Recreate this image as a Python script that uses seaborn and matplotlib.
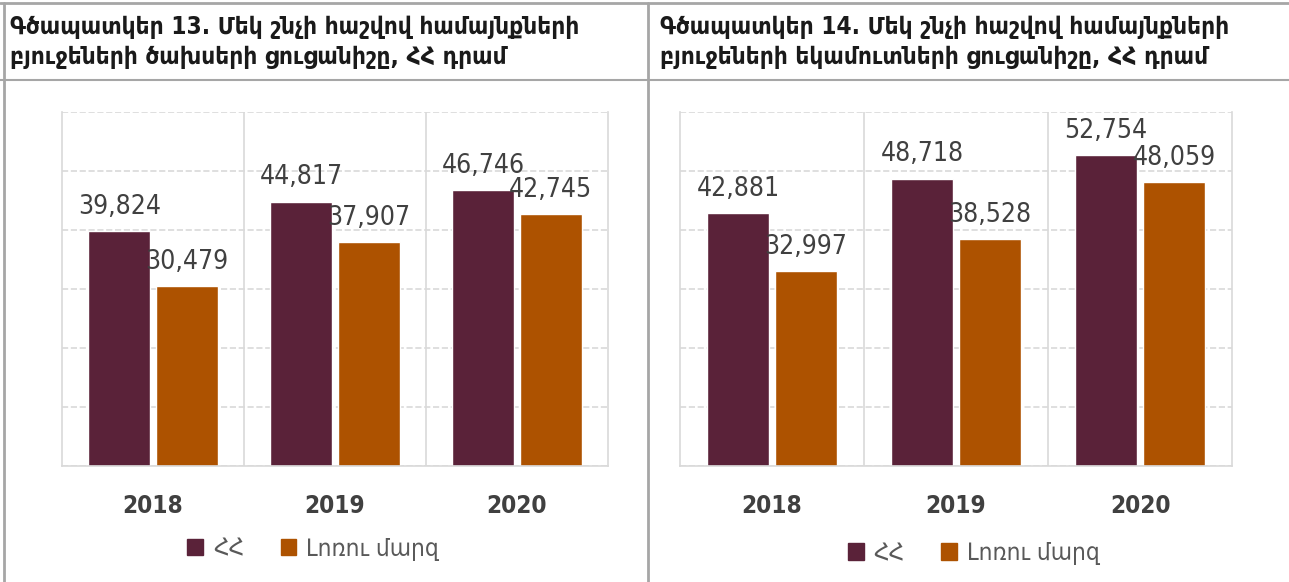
import matplotlib
matplotlib.use('Agg')
import matplotlib.pyplot as plt
import matplotlib.patches as mpatches
import pandas as pd
import seaborn as sns

years = ['2018', '2019', '2020']
series = ['ՀՀ', 'Լոռու մարզ']
exp_hh = [39824, 44817, 46746]
exp_lorri = [30479, 37907, 42745]
inc_hh = [42881, 48718, 52754]
inc_lorri = [32997, 38528, 48059]
yticks = [0, 10000, 20000, 30000, 40000, 50000, 60000]

title_13 = 'Գծապատկեր 13. Մեկ շնչի հաշվով համայնքների\nբյուջեների ծախսերի ցուցանիշը, ՀՀ դրամ'
title_14 = 'Գծապատկեր 14. Մեկ շնչի հաշվով համայնքների\nբյուջեների եկամուտների ցուցանիշը, ՀՀ դրամ'

colors = ['#5a2239', '#ad5200']

sns.set_style('white')
plt.rcParams['font.family'] = ['DejaVu Sans']
plt.rcParams['font.stretch'] = 'condensed'


def make_df(hh, lorri):
    return pd.DataFrame({
        'year': years * 2,
        'value': hh + lorri,
        'series': [series[0]] * 3 + [series[1]] * 3,
    })


fig = plt.figure(figsize=(12.89, 5.82), dpi=100)

ax1 = fig.add_axes([62 / 1289, 116 / 582, 546 / 1289, 354 / 582])
ax2 = fig.add_axes([680 / 1289, 116 / 582, 552 / 1289, 354 / 582])

panels = [(ax1, make_df(exp_hh, exp_lorri), 0.46, -0.234),
          (ax2, make_df(inc_hh, inc_lorri), 0.532, -0.246)]

for ax, df, lx, ly in panels:
    sns.barplot(data=df, x='year', y='value', hue='series', palette=colors,
                saturation=1, width=0.74, gap=0.08, ax=ax, legend=False)
    ax.set_ylim(0, 60000)
    ax.set_xlim(-0.5, 2.5)
    ax.set_yticks(yticks)
    ax.set_yticklabels([])
    ax.tick_params(axis='y', length=0)
    ax.tick_params(axis='x', length=0, pad=20, labelsize=17.5, labelcolor='#404040')
    for t in ax.get_xticklabels():
        t.set_fontweight('bold')
    ax.set_xlabel('')
    ax.set_ylabel('')
    ax.grid(axis='y', color='#d9d9d9', linestyle='--', linewidth=1.2)
    ax.set_axisbelow(True)
    for x in [0.5, 1.5]:
        ax.axvline(x, color='#d9d9d9', linewidth=1.2, zorder=0)
    for s in ['left', 'right', 'bottom']:
        ax.spines[s].set_color('#d9d9d9')
        ax.spines[s].set_linewidth(1.2)
    ax.spines['top'].set_visible(False)
    for cont in ax.containers:
        ax.bar_label(cont, labels=[f'{v:,.0f}' for v in cont.datavalues],
                     padding=8, fontsize=19, color='#404040')
    handles = [mpatches.Patch(color=c, label=s) for c, s in zip(colors, series)]
    leg = ax.legend(handles=handles, loc='center', bbox_to_anchor=(lx, ly),
                    ncol=2, frameon=False, handlelength=0.65, handleheight=0.65,
                    columnspacing=1.5, handletextpad=0.4, fontsize=17.5)
    for t in leg.get_texts():
        t.set_color('#595959')

fig.text(10 / 1289, 1 - 42 / 582, title_13, fontsize=17.5, fontweight='bold',
         color='#1a1a1a', va='center', ha='left', linespacing=1.35)
fig.text(660 / 1289, 1 - 42 / 582, title_14, fontsize=17.5, fontweight='bold',
         color='#1a1a1a', va='center', ha='left', linespacing=1.35)

line_c = '#a6a6a6'
fig.add_artist(plt.Line2D([0, 1], [1 - 3 / 582] * 2, color=line_c, linewidth=2,
                          transform=fig.transFigure))
fig.add_artist(plt.Line2D([0, 1], [1 - 80 / 582] * 2, color=line_c, linewidth=1.5,
                          transform=fig.transFigure))
fig.add_artist(plt.Line2D([4 / 1289] * 2, [0, 1 - 3 / 582], color=line_c, linewidth=2,
                          transform=fig.transFigure))
fig.add_artist(plt.Line2D([648 / 1289] * 2, [0, 1 - 3 / 582], color=line_c, linewidth=2,
                          transform=fig.transFigure))

fig.savefig('out.png', dpi=100)
